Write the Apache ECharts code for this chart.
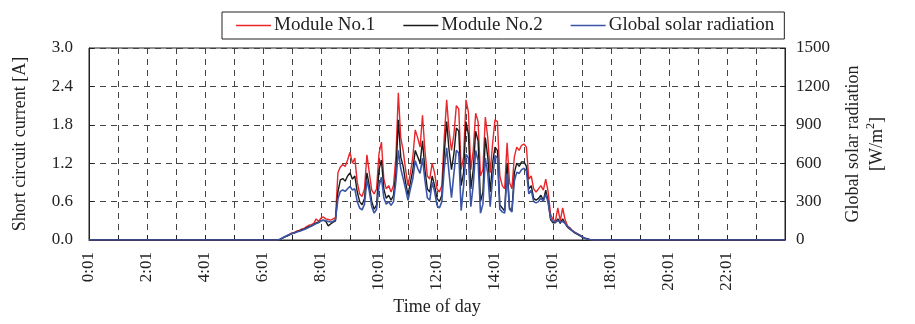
<!DOCTYPE html>
<html>
<head>
<meta charset="utf-8">
<script src="https://cdn.jsdelivr.net/npm/echarts@6/dist/echarts.min.js"></script>
<style>
html,body{margin:0;padding:0;background:#fff;}
#chart{width:915px;height:324px;}
</style>
</head>
<body>
<div id="chart"></div>
<script>
// Sampling instants (minutes of day): night anchors + 5-minute daytime samples 6:30–17:30
const dayStart = 390, dayEnd = 1050, step = 5;
const times = [0];
for (let m = dayStart; m <= dayEnd; m += step) times.push(m);
times.push(1440);

// Module No.1 short circuit current [A]
const module1 = [0,
  0.00, 0.01, 0.03, 0.05, 0.07, 0.09,
  0.11, 0.12, 0.14, 0.15, 0.17, 0.18,
  0.21, 0.23, 0.24, 0.26, 0.33, 0.29,
  0.34, 0.36, 0.33, 0.32, 0.31, 0.33,
  0.35, 1.05, 1.14, 1.18, 1.15, 1.25,
  1.37, 1.20, 1.28, 0.90, 0.72, 0.68,
  0.80, 1.33, 1.05, 0.78, 0.72, 0.80,
  1.35, 1.53, 0.95, 0.80, 0.85, 0.75,
  0.85, 1.30, 2.30, 1.60, 1.40, 1.10,
  0.85, 1.05, 1.30, 1.72, 1.60, 1.45,
  1.95, 1.40, 1.00, 0.95, 1.20, 1.05,
  0.80, 0.75, 0.85, 1.60, 2.19, 1.70,
  1.40, 1.65, 2.10, 2.05, 1.10, 1.30,
  2.19, 2.00, 1.10, 1.40, 1.98, 1.85,
  1.00, 1.10, 1.92, 1.60, 1.05, 1.50,
  1.88, 1.85, 1.00, 0.85, 0.80, 1.52,
  0.90, 0.80, 1.30, 1.45, 1.40, 1.48,
  1.50, 1.45, 0.95, 1.00, 0.80, 0.75,
  0.80, 0.85, 0.78, 0.95, 0.75, 0.40,
  0.32, 0.30, 0.50, 0.30, 0.50, 0.32,
  0.22, 0.19, 0.15, 0.12, 0.10, 0.08,
  0.05, 0.03, 0.02, 0.01, 0.00, 0.00,
  0.00,
0];

// Module No.2 short circuit current [A]
const module2 = [0,
  0.00, 0.01, 0.03, 0.05, 0.06, 0.08,
  0.10, 0.11, 0.13, 0.14, 0.16, 0.17,
  0.19, 0.21, 0.22, 0.24, 0.27, 0.28,
  0.30, 0.31, 0.29, 0.22, 0.25, 0.28,
  0.30, 0.75, 0.94, 0.96, 0.92, 1.00,
  1.05, 0.95, 1.00, 0.75, 0.60, 0.55,
  0.65, 1.05, 0.85, 0.60, 0.48, 0.55,
  1.10, 1.25, 0.80, 0.65, 0.70, 0.62,
  0.70, 1.05, 1.88, 1.30, 1.15, 0.90,
  0.70, 0.90, 1.10, 1.40, 1.30, 1.20,
  1.55, 1.10, 0.80, 0.75, 1.00, 0.85,
  0.65, 0.60, 0.70, 1.35, 1.85, 1.40,
  1.10, 1.35, 1.75, 1.70, 0.85, 1.05,
  1.85, 1.65, 0.80, 1.10, 1.70, 1.55,
  0.60, 0.75, 1.60, 1.30, 0.75, 1.20,
  1.45, 1.40, 0.55, 0.50, 0.45, 1.20,
  0.50, 0.45, 1.05, 1.20, 1.15, 1.22,
  1.22, 1.15, 0.80, 0.85, 0.65, 0.62,
  0.65, 0.70, 0.62, 0.78, 0.60, 0.32,
  0.27, 0.27, 0.33, 0.26, 0.33, 0.26,
  0.20, 0.17, 0.14, 0.11, 0.09, 0.07,
  0.05, 0.03, 0.02, 0.01, 0.00, 0.00,
  0.00,
0];

// Global solar radiation [W/m2]
const radiation = [0,
  0, 5, 15, 25, 35, 42,
  50, 55, 62, 68, 75, 82,
  90, 100, 108, 118, 128, 135,
  150, 155, 150, 145, 140, 145,
  160, 320, 380, 390, 380, 400,
  420, 390, 400, 300, 250, 235,
  280, 470, 380, 260, 210, 240,
  420, 490, 330, 280, 300, 270,
  300, 460, 700, 560, 480, 400,
  310, 400, 480, 620, 560, 520,
  640, 470, 330, 310, 450, 380,
  270, 250, 300, 560, 720, 520,
  330, 520, 700, 680, 230, 420,
  670, 640, 260, 430, 700, 620,
  210, 280, 640, 520, 260, 480,
  660, 640, 240, 220, 210, 520,
  240, 220, 460, 530, 520, 550,
  560, 540, 360, 390, 300, 290,
  300, 330, 300, 360, 290, 170,
  145, 140, 150, 140, 145, 130,
  105, 90, 72, 60, 50, 40,
  25, 15, 8, 4, 2, 0,
  0,
0];

const seriesNames = ['Module No.1', 'Module No.2', 'Global solar radiation'];
const seriesColors = ['#e8262b', '#1a1a1a', '#3b55a6'];

const pair = (vals) => times.map((t, i) => [t, vals[i]]);
const FONT = 'Liberation Serif';

const chart = echarts.init(document.getElementById('chart'), null, {renderer: 'canvas'});
chart.setOption({
  animation: false,
  backgroundColor: '#fff',
  textStyle: {fontFamily: FONT, color: '#222'},
  legend: {
    left: 222, top: 12,
    padding: [4, 10, 4, 14],
    borderColor: '#222', borderWidth: 1,
    icon: 'rect',
    itemWidth: 35, itemHeight: 1.5, itemGap: 28,
    textStyle: {fontFamily: FONT, fontSize: 19, color: '#222', padding: [0, 0, 0, -2]},
    data: seriesNames
  },
  grid: {left: 89, right: 130, top: 48, bottom: 84, show: true, borderColor: '#222', borderWidth: 1, containLabel: false},
  xAxis: {
    type: 'value', min: 0, max: 1440, interval: 60,
    name: 'Time of day', nameLocation: 'middle', nameGap: 57,
    nameTextStyle: {fontFamily: FONT, fontSize: 18, color: '#222'},
    axisLine: {show: true, lineStyle: {color: '#222'}},
    axisTick: {show: true, inside: true, length: 5, lineStyle: {color: '#222'}},
    axisLabel: {
      rotate: 90, margin: 12, fontFamily: FONT, fontSize: 17, color: '#222',
      showMaxLabel: false,
      formatter: (v) => (v % 120 === 0 && v < 1440) ? (v / 60) + ':01' : ''
    },
    splitLine: {show: true, lineStyle: {color: '#444', type: [6, 5], width: 1}}
  },
  yAxis: [{
    type: 'value', min: 0, max: 3.0, interval: 0.6,
    name: 'Short circuit current [A]', nameLocation: 'middle', nameGap: 60,
    nameTextStyle: {fontFamily: FONT, fontSize: 18, color: '#222'},
    axisLine: {show: true, lineStyle: {color: '#222'}},
    axisTick: {show: true, inside: true, length: 5, lineStyle: {color: '#222'}},
    axisLabel: {margin: 16, fontFamily: FONT, fontSize: 17, color: '#222', formatter: (v) => v.toFixed(1)},
    splitLine: {show: true, lineStyle: {color: '#444', type: [6, 5], width: 1}}
  }, {
    type: 'value', min: 0, max: 1500, interval: 300, position: 'right',
    name: 'Global solar radiation\n[W/m{sup|2}]', nameLocation: 'middle', nameGap: 56,
    nameTextStyle: {fontFamily: FONT, fontSize: 18, color: '#222', lineHeight: 24,
      rich: {sup: {fontFamily: FONT, fontSize: 12, verticalAlign: 'top', lineHeight: 14, padding: [0, 0, 8, 0]}}},
    axisLine: {show: true, lineStyle: {color: '#222'}},
    axisTick: {show: true, inside: true, length: 5, lineStyle: {color: '#222'}},
    axisLabel: {margin: 11, fontFamily: FONT, fontSize: 17, color: '#222', formatter: (v) => String(v)},
    splitLine: {show: false}
  }],
  series: seriesNames.map((name, k) => ({
    name, type: 'line', yAxisIndex: k === 2 ? 1 : 0,
    data: pair([module1, module2, radiation][k]),
    symbol: 'none',
    lineStyle: {color: seriesColors[k], width: k === 2 ? 1.6 : 1.4},
    itemStyle: {color: seriesColors[k]}
  }))
});
</script>
</body>
</html>
